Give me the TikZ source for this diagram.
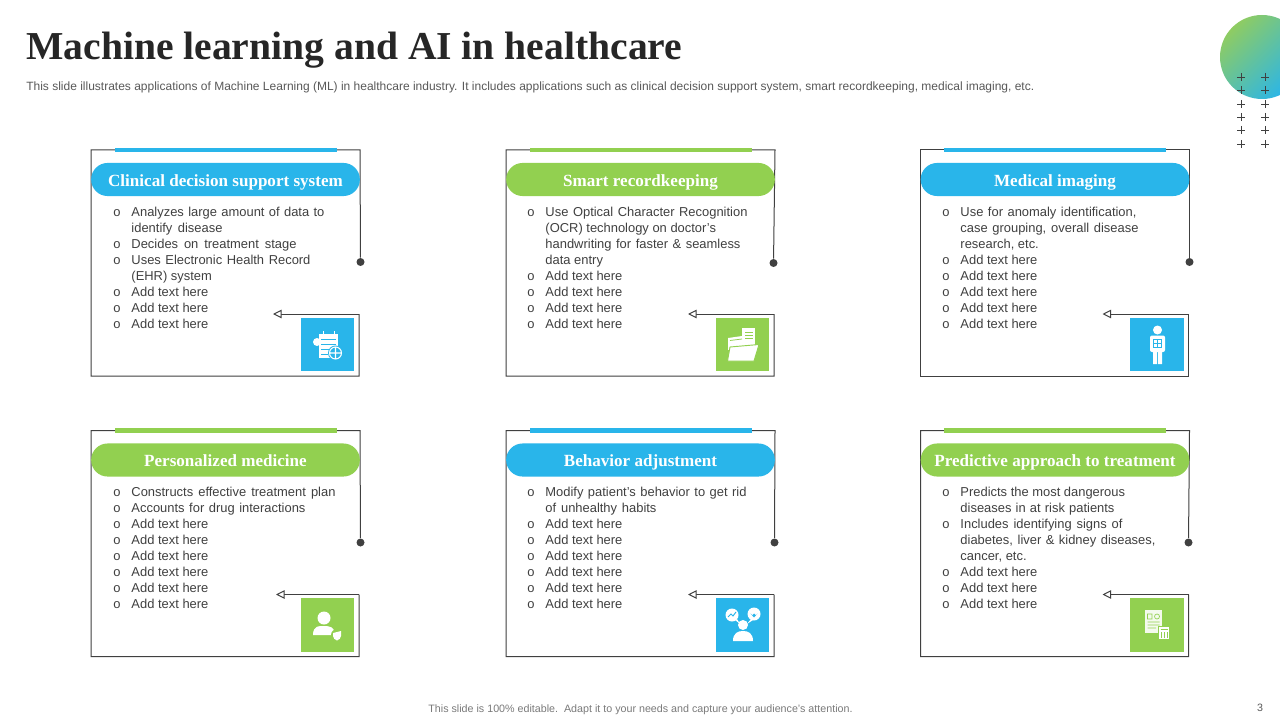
\documentclass[tikz,border=0pt]{standalone}
\usepackage{fontspec}
\setmainfont{Liberation Sans}
\newfontfamily\headfont{Liberation Serif}
\usetikzlibrary{arrows.meta}
\definecolor{bluec}{HTML}{29B5EA}
\definecolor{greenc}{HTML}{92D050}
\definecolor{gradg}{HTML}{8FCC62}
\definecolor{framec}{HTML}{404040}
\definecolor{textc}{HTML}{404040}
\definecolor{subc}{HTML}{595959}
\newcommand{\bl}{\makebox[13.65pt][l]{o}}
\newcommand{\ct}{\hspace*{13.65pt}}
\newcommand{\js}[2]{\makebox[\dimexpr #1pt*3/4\relax][s]{#2}}
\newcommand{\card}[8]{%
  \coordinate (#1tl) at (#2,#3);
  \coordinate (#1tr) at (#2+269,#3);
  \coordinate (#1bl) at (#2,#3+226);
  \coordinate (#1br) at (#2+268,#3+226);
  \coordinate (#1ic) at (#2+268,#3+164);
  \coordinate (#1tip) at (#2+#8,#3+164);
  \node[dotn] (#1dot) at (#2+269+#6,#3+#7) {};
  \draw[frameline] (#1dot) -- (#1tr) -- (#1tl) -- (#1bl) -- (#1br) -- (#1ic);
  \draw[frameline,-{Triangle[open,length=6.5pt,width=6.5pt,fill=white]}] (#1ic) -- (#1tip);
  \node[topbar,fill=#4] (#1bar) at (#2+134.5,#3) {};
  \node[pill,fill=#4] (#1head) at (#2+134.5,#3+29.5) {#5};
  \node[iconbox,fill=#4] (#1box) at (#2+236.5,#3+168+26.5) {};
}
\tikzset{
  x=0.75pt,y=-0.75pt,
  frameline/.style={draw=framec,line width=0.75pt},
  dotn/.style={circle,fill=framec,inner sep=0pt,minimum size=6pt},
  topbar/.style={rectangle,inner sep=0pt,minimum width=166.5pt,minimum height=3.6pt},
  pill/.style={rectangle,rounded corners=12.3pt,inner sep=0pt,minimum width=201.5pt,minimum height=24.8pt,text=white,text height=13pt,text depth=3pt,font=\headfont\bfseries\fontsize{12.8}{15}\selectfont},
  iconbox/.style={rectangle,inner sep=0pt,minimum width=39.8pt,minimum height=39.8pt},
  bodytext/.style={anchor=north west,inner sep=0pt,align=left,text=textc,font=\fontsize{9.7}{12}\selectfont},
  ink/.style={fill=white,draw=none},
  inkl/.style={draw=white,line width=0.7pt},
}
\begin{document}
\begin{tikzpicture}
\useasboundingbox (0,0) rectangle (1280,720);
\fill[white] (0,0) rectangle (1280,720);
% corner decoration
\shade[left color=gradg,right color=bluec,shading angle=45] (1262,57) circle[radius=42];
\foreach \qx in {1241,1265}
  \foreach \qy in {77,90,104,117,130,144}
    \draw[draw=framec,line width=0.55pt] (\qx-4,\qy) -- (\qx+4,\qy) (\qx,\qy-4) -- (\qx,\qy+4);
% title
\node[anchor=west,inner sep=0pt,text=black!85,font=\headfont\bfseries\fontsize{29.7}{34}\selectfont] (title) at (26,50) {Machine learning and AI in healthcare};
\node[anchor=west,inner sep=0pt,text=subc,font=\fontsize{9}{11}\selectfont] (sub) at (26,87) {This slide illustrates applications of Machine Learning (ML) in healthcare industry. It includes applications such as clinical decision support system, smart recordkeeping, medical imaging, etc.};
% cards
\card{a}{91}{150}{bluec}{Clinical decision support system}{0.5}{112}{182}
\card{b}{506}{150}{greenc}{Smart recordkeeping}{-1.5}{113}{182}
\card{c}{920.5}{150}{bluec}{Medical imaging}{0}{112}{182}
\card{d}{91}{430.5}{greenc}{Personalized medicine}{0.5}{112}{185}
\card{e}{506}{430.5}{bluec}{Behavior adjustment}{-0.5}{112}{182}
\card{f}{920.5}{430.5}{greenc}{Predictive approach to treatment}{-1}{112}{182}
% body text
\node[bodytext] (ta) at (113,206.5) {\bl\js{193}{Analyzes large amount of data to}\\\ct\js{91}{identify disease}\\\bl\js{165}{Decides on treatment stage}\\\bl\js{179}{Uses Electronic Health Record}\\\ct (EHR) system\\\bl Add text here\\\bl Add text here\\\bl Add text here};
\node[bodytext] (tb) at (527,206.5) {\bl\js{202}{Use Optical Character Recognition}\\\ct (OCR) technology on doctor’s\\\ct\js{195}{handwriting for faster \& seamless}\\\ct data entry\\\bl Add text here\\\bl Add text here\\\bl Add text here\\\bl Add text here};
\node[bodytext] (tc) at (942,206.5) {\bl\js{176}{Use for anomaly identification,}\\\ct\js{178}{case grouping, overall disease}\\\ct research, etc.\\\bl Add text here\\\bl Add text here\\\bl Add text here\\\bl Add text here\\\bl Add text here};
\node[bodytext] (td) at (113,486.5) {\bl\js{204}{Constructs effective treatment plan}\\\bl\js{174}{Accounts for drug interactions}\\\bl Add text here\\\bl Add text here\\\bl Add text here\\\bl Add text here\\\bl Add text here\\\bl Add text here};
\node[bodytext] (te) at (527,486.5) {\bl\js{201}{Modify patient’s behavior to get rid}\\\ct\js{111}{of unhealthy habits}\\\bl Add text here\\\bl Add text here\\\bl Add text here\\\bl Add text here\\\bl Add text here\\\bl Add text here};
\node[bodytext] (tf) at (942,486.5) {\bl Predicts the most dangerous\\\ct\js{154}{diseases in at risk patients}\\\bl\js{162}{Includes identifying signs of}\\\ct\js{195}{diabetes, liver \& kidney diseases,}\\\ct cancer, etc.\\\bl Add text here\\\bl Add text here\\\bl Add text here};
% icon a: clipboard
\fill[ink] (317,342) circle[radius=4];
\fill[ink] (319,334) rectangle (338,358);
\draw[inkl] (323,331) -- (323,335) (334,331) -- (334,335);
\draw[bluec,line width=0.7pt] (321,339) -- (336,339) (321,344) -- (336,344) (321,349) -- (331,349) (321,354) -- (328,354);
\fill[bluec] (335.5,353) circle[radius=7.5];
\draw[white,line width=0.8pt] (335.5,353) circle[radius=6] (330,353) -- (341,353) (335.5,347.5) -- (335.5,358.5);
% icon b: folder
\fill[ink] (742,328) rectangle (755,346);
\draw[greenc,line width=0.6pt] (745,332) -- (753,332) (745,335) -- (753,335) (745,338) -- (753,338);
\fill[ink] (728,338) -- (742,336) -- (742,346) -- (728,350) -- cycle;
\draw[greenc,line width=0.6pt] (730,340.5) -- (742,339);
\filldraw[fill=white,draw=greenc,line width=0.7pt] (730,347) -- (759,344.5) -- (754,361) -- (727.5,361) -- cycle;
% icon c: person
\fill[ink] (1157.5,330) circle[radius=4.5];
\fill[ink,rounded corners=1.5pt] (1150,335.5) rectangle (1165,352);
\fill[ink] (1153,350) rectangle (1157.2,364) (1158,350) rectangle (1162,364);
\draw[bluec,line width=0.45pt] (1153.5,339) rectangle (1161.5,347) (1157.5,339) -- (1157.5,347) (1153.5,343) -- (1161.5,343);
% icon d: user
\fill[ink] (324,618) circle[radius=6.5];
\fill[ink] (313,635) .. controls (313,625) and (320,626) .. (324,626) .. controls (330,626) and (335,627) .. (335,635) -- cycle;
\fill[greenc] (337,635) circle[radius=6];
\fill[ink] (333,633) -- (341,631) -- (341,636) .. controls (341,638) and (339,640) .. (337,640.5) .. controls (335,640) and (333,638) .. (333,636) -- cycle;
% icon e: bubbles
\fill[ink] (732,615) circle[radius=6.5] (754,614) circle[radius=6.5];
\fill[ink] (735,620) -- (740,624) -- (737,619) -- cycle (751,619) -- (747,624) -- (753,620) -- cycle;
\draw[bluec,line width=0.7pt] (728,617) -- (731,614) -- (733,616) -- (736,612);
\fill[bluec] (754,617.5) -- (750.5,613.5) arc (180:0:1.75) arc (180:0:1.75) -- cycle;
\fill[ink] (743,625) circle[radius=5];
\fill[ink] (733,641) .. controls (733,633) and (738,631) .. (743,631) .. controls (748,631) and (753,633) .. (753,641) -- cycle;
% icon f: document and calculator
\fill[white!90!greenc] (1145,610) rectangle (1162,633);
\draw[greenc,line width=0.5pt] (1147.5,614) rectangle (1152,619) (1157,616.5) circle[radius=2.5] (1147.5,622) -- (1159.5,622) (1147.5,625) -- (1159.5,625) (1147.5,628) -- (1156,628);
\fill[greenc] (1158,626) rectangle (1170,640);
\fill[ink] (1159,627) rectangle (1169,639);
\draw[greenc,line width=0.5pt] (1160.5,629.5) -- (1167.5,629.5) (1161,632) -- (1161,637.5) (1164,632) -- (1164,637.5) (1167,632) -- (1167,637.5);
% footer
\node[inner sep=0pt,text=subc!80,font=\fontsize{8.03}{10}\selectfont] (foot) at (640.5,710) {This slide is 100\% editable.\ \ Adapt it to your needs and capture your audience’s attention.};
\node[inner sep=0pt,text=subc,font=\fontsize{8}{10}\selectfont] (page) at (1260,708) {3};
\end{tikzpicture}
\end{document}
